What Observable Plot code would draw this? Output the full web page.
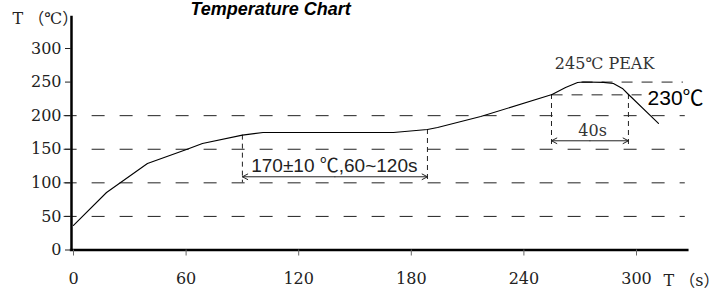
<!DOCTYPE html>
<html><head><meta charset="utf-8">
<script src="https://cdn.jsdelivr.net/npm/d3@7"></script>
<script src="https://cdn.jsdelivr.net/npm/@observablehq/plot@0.6"></script>
<style>body{margin:0;background:#fff}</style>
</head><body><div id="chart"></div>
<script>
// --- data ---
const title = "Temperature Chart";
const profileTime = [0, 17.6, 39.4, 60.2, 68.7, 90, 101, 170.5, 188.6, 194, 217, 255, 262.2, 268.6, 271.8, 282.4, 287.7, 292.5, 295.2, 311.7];
const profileTemp = [36.5, 85.6, 128.8, 149.6, 158.6, 171, 175, 175, 179.4, 182.4, 198.7, 231.5, 241.9, 249.4, 250.2, 249.5, 248, 240.6, 233, 188.4];
const yTicks = [0, 50, 100, 150, 200, 250, 300];
const xTicks = [0, 60, 120, 180, 240, 300];
const gridLevels = [50, 100, 150, 200];
const peakLevel = [250];
const reflowLevel = [231];
const soakTimes = [90, 188.6];
const soakTops = [171, 179.4];
const soakBottom = 100;
const soakArrowTemp = 109;
const reflowTimes = [254.7, 295.7];
const reflowTop = 231.5;
const reflowBottom = 155;
const reflowArrowTemp = 162.6;
const soakLabel = "170±10 ℃,60~120s";
const reflowLabel = "40s";
const peakLabel = "245℃ PEAK";
const reflowTempLabel = "230℃";
const yUnit = "T （℃）";
const xUnit = "T （s）";

const profile = profileTime.map((t, i) => ({t, T: profileTemp[i]}));
const serif = "DejaVu Serif, Noto Sans CJK SC, serif";
const sans = "Liberation Sans, Arial, Noto Sans CJK SC, sans-serif";
const ink = "#222";

// double-headed arrows drawn as two arrows from the middle outward
function doubleArrow(times, temp) {
  const mid = (times[0] + times[1]) / 2;
  return times.map(t => ({x1: mid, x2: t, y: temp}));
}

const chart = Plot.plot({
  width: 728, height: 292,
  marginLeft: 71, marginRight: 0, marginTop: 0, marginBottom: 42.5,
  x: {domain: [0, 300], range: [73, 636], axis: null},
  y: {domain: [0, 300], range: [249.5, 48], axis: null},
  style: {fontFamily: serif, fontSize: "16px", color: ink, background: "#fff"},
  marks: [
    // dashed grid
    Plot.ruleY(gridLevels, {x1: -5, x2: 326, stroke: ink, strokeWidth: 1, strokeDasharray: "13,15"}),
    Plot.ruleY(peakLevel, {x1: 271, x2: 325, stroke: ink, strokeWidth: 1, strokeDasharray: "11,9"}),
    Plot.ruleY(reflowLevel, {x1: 255, x2: 303, stroke: ink, strokeWidth: 1, strokeDasharray: "11,9"}),
    // vertical markers
    Plot.ruleX(soakTimes, {x: d => d, y1: (d, i) => soakTops[i], y2: soakBottom, stroke: ink, strokeWidth: 1, strokeDasharray: "5,4"}),
    Plot.ruleX(reflowTimes, {x: d => d, y1: reflowTop, y2: reflowBottom, stroke: ink, strokeWidth: 1, strokeDasharray: "5,4"}),
    // double arrows
    Plot.arrow(doubleArrow(soakTimes, soakArrowTemp), {x1: "x1", x2: "x2", y1: "y", y2: "y", stroke: ink, strokeWidth: 1, headLength: 9, headAngle: 55}),
    Plot.arrow(doubleArrow(reflowTimes, reflowArrowTemp), {x1: "x1", x2: "x2", y1: "y", y2: "y", stroke: ink, strokeWidth: 1, headLength: 9, headAngle: 55}),
    // profile curve
    Plot.line(profile, {x: "t", y: "T", stroke: "#000", strokeWidth: 1.1}),
    // axes
    Plot.ruleX([-1.07], {y1: 0, y2: 348, stroke: "#000", strokeWidth: 2.5}),
    Plot.ruleY([0], {x1: -1.7, x2: 328, stroke: "#000", strokeWidth: 2.5}),
    Plot.axisY(yTicks, {anchor: "left", tickSize: 6, tickPadding: 4, stroke: ink, fill: ink, fontSize: 16, fontFamily: serif, label: null}),
    Plot.axisX(xTicks, {anchor: "bottom", tickSize: 6, tickPadding: 17, stroke: "#666", fill: ink, fontSize: 16, fontFamily: serif, label: null}),
    // labels
    Plot.text([soakLabel], {x: 139, y: 125.8, text: d => d, fontFamily: sans, fontSize: 19, fill: ink}),
    Plot.text([reflowLabel], {x: 276.6, y: 177.9, text: d => d, fontFamily: serif, fontSize: 16, fill: "#333"}),
    Plot.text([peakLabel], {x: 283, y: 277.6, text: d => d, fontFamily: serif, fontSize: 16, fill: "#333"}),
    Plot.text([reflowTempLabel], {x: 305.9, y: 225.6, text: d => d, textAnchor: "start", fontFamily: sans, fontSize: 21, fill: "#000"}),
    Plot.text([yUnit], {x: -32.5, y: 344.6, text: d => d, textAnchor: "start", fontFamily: serif, fontSize: 16, fill: ink}),
    Plot.text([xUnit], {x: 314.4, y: -45.4, text: d => d, textAnchor: "start", fontFamily: serif, fontSize: 16, fill: ink}),
    Plot.text([title], {x: 62.3, y: 359, text: d => d, textAnchor: "start", fontFamily: sans, fontSize: 18, fontWeight: "bold", fontStyle: "italic", fill: "#000"})
  ]
});
document.getElementById("chart").appendChild(chart);
</script>
</body></html>
